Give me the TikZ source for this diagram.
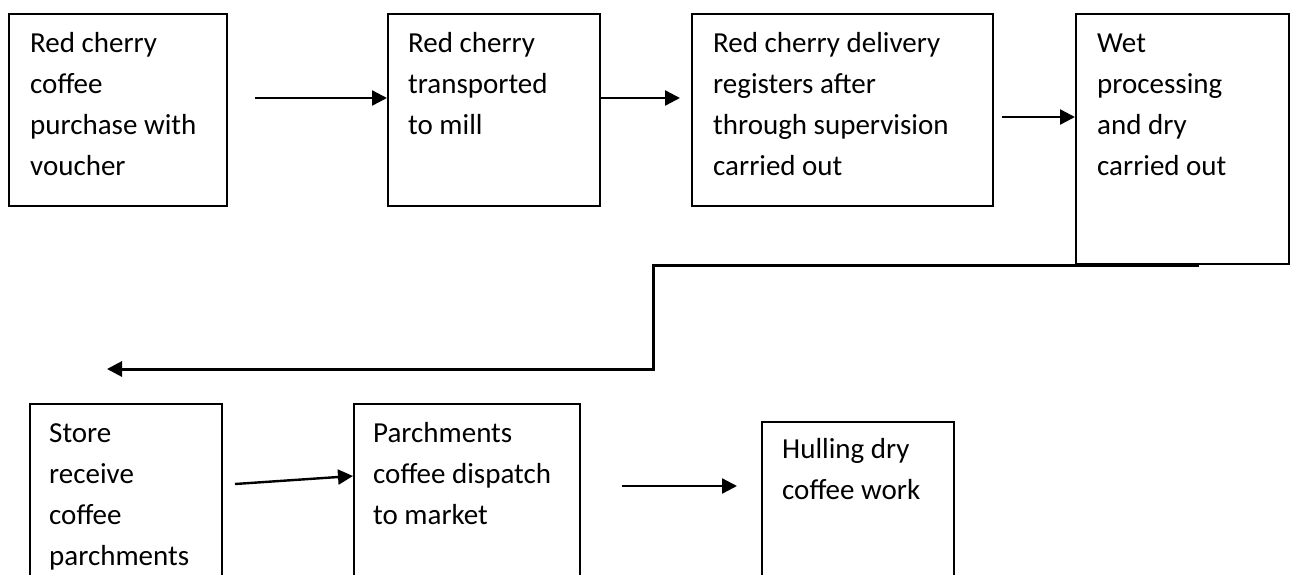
\documentclass[tikz,border=0pt]{standalone}
\usepackage{fontspec}
\setmainfont{Carlito}
\usetikzlibrary{arrows.meta}
\tikzset{
  box/.style={draw, line width=1.5pt, inner sep=0pt, anchor=north west},
  txt/.style={anchor=base west, inner sep=0pt, font=\fontsize{29}{41}\selectfont},
  arr/.style={line width=2.4pt, -{Triangle[length=15pt,width=15pt]}},
}
\newcommand{\mylines}[1]{\vtop{\baselineskip=41pt #1}}
\begin{document}
\begin{tikzpicture}[x=1pt,y=-1pt]
\useasboundingbox (0,0) rectangle (1293,574);
\clip (0,0) rectangle (1293,574);
% boxes
\node[box, minimum width=218pt, minimum height=192pt] (b1) at (8,13) {};
\node[box, minimum width=212pt, minimum height=192pt] (b2) at (387,13) {};
\node[box, minimum width=301pt, minimum height=192pt] (b3) at (691,13) {};
\node[box, minimum width=213pt, minimum height=250pt] (b4) at (1075,13) {};
\node[box, minimum width=192pt, minimum height=200pt] (b5) at (29,403) {};
\node[box, minimum width=226pt, minimum height=200pt] (b6) at (353,403) {};
\node[box, minimum width=192pt, minimum height=200pt] (b7) at (761,421) {};
% texts
\node[txt] (t1) at (30,52) {\mylines{\hbox{Red cherry}\hbox{coffee}\hbox{purchase with}\hbox{voucher}}};
\node[txt] (t2) at (408,52) {\mylines{\hbox{Red cherry}\hbox{transported}\hbox{to mill}}};
\node[txt] (t3) at (713,52) {\mylines{\hbox{Red cherry delivery}\hbox{registers after}\hbox{through supervision}\hbox{carried out}}};
\node[txt] (t4) at (1097,52) {\mylines{\hbox{Wet}\hbox{processing}\hbox{and dry}\hbox{carried out}}};
\node[txt] (t5) at (49,442) {\mylines{\hbox{Store}\hbox{receive}\hbox{coffee}\hbox{parchments}}};
\node[txt] (t6) at (373,442) {\mylines{\hbox{Parchments}\hbox{coffee dispatch}\hbox{to market}}};
\node[txt] (t7) at (782,458) {\mylines{\hbox{Hulling dry}\hbox{coffee work}}};
% free ends
\coordinate (a1s) at (255,98);
\coordinate (a2e) at (680,98);
\coordinate (a3s) at (1002,117);
\coordinate (a4s) at (1199,265);
\coordinate (a4e) at (107,369);
\coordinate (a5s) at (235,484);
\coordinate (a6s) at (622,486);
\coordinate (a6e) at (737,486);
% connectors
\draw[arr] (a1s) -- (a1s -| b2.west);
\draw[arr] (a2e -| b2.east) -- (a2e);
\draw[arr] (a3s) -- (a3s -| b4.west);
\draw[arr, line width=3pt] (a4s) -- (653,265) -- (653,369) -- (a4e);
\draw[arr] (a5s) -- ([yshift=-73pt]b6.north west);
\draw[arr] (a6s) -- (a6e);
\end{tikzpicture}
\end{document}
